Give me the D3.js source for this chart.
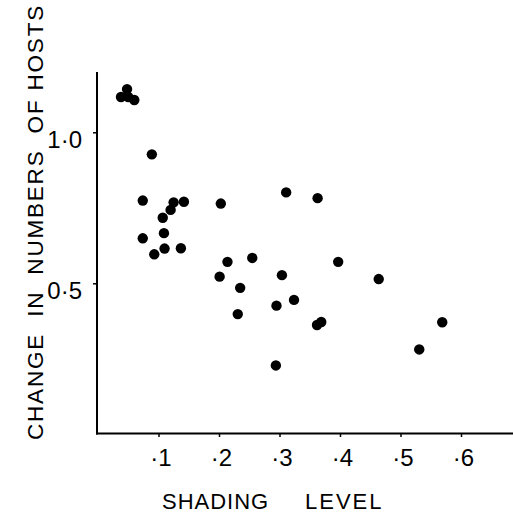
<!DOCTYPE html>
<html>
<head>
<meta charset="utf-8">
<script src="https://cdn.jsdelivr.net/npm/d3@7"></script>
<style>
  html, body { margin: 0; padding: 0; background: #fff; }
  svg { display: block; }
  text { font-family: "Liberation Sans", Arial, Helvetica, sans-serif; fill: #000; }
</style>
</head>
<body>
<svg id="chart" width="513" height="515"></svg>
<script>
// Shading level (x) of each observation
const shading = [
  0.038, 0.048, 0.050, 0.060,
  0.089, 0.074, 0.125, 0.142, 0.120, 0.107, 0.109, 0.074, 0.093, 0.110, 0.137,
  0.203, 0.311, 0.363, 0.214, 0.255, 0.201, 0.304, 0.235, 0.324, 0.295, 0.231,
  0.362, 0.369, 0.294,
  0.397, 0.464, 0.569, 0.531
];
// Change in numbers of hosts (y) of each observation
const change = [
  1.117, 1.143, 1.117, 1.107,
  0.927, 0.774, 0.768, 0.770, 0.743, 0.717, 0.666, 0.649, 0.596, 0.615, 0.616,
  0.764, 0.801, 0.782, 0.571, 0.584, 0.522, 0.527, 0.485, 0.445, 0.426, 0.398,
  0.362, 0.372, 0.228,
  0.571, 0.514, 0.371, 0.281
];
const xTickValues = [0.1, 0.2, 0.3, 0.4, 0.5, 0.6];
const xTickLabels = ["\u00b71", "\u00b72", "\u00b73", "\u00b74", "\u00b75", "\u00b76"];
const yTickValues = [0.5, 1.0];
const yTickLabels = ["0\u00b75", "1\u00b70"];
const xTitle = ["SHADING", "LEVEL"];
const yTitle = "CHANGE  IN  NUMBERS  OF HOSTS";

const svg = d3.select("#chart");
const x = d3.scaleLinear().domain([0, 0.6]).range([98, 461]);
const y = d3.scaleLinear().domain([0, 1.0]).range([434.3, 132.3]);
const data = shading.map((d, i) => ({ x: d, y: change[i] }));

// axes lines
svg.append("line").attr("x1", 97).attr("x2", 97).attr("y1", 72).attr("y2", 434.5)
  .attr("stroke", "#000").attr("stroke-width", 2);
svg.append("line").attr("x1", 96).attr("x2", 513).attr("y1", 433.5).attr("y2", 433.5)
  .attr("stroke", "#000").attr("stroke-width", 2);

// x axis via d3
const xAxis = d3.axisBottom(x).tickValues(xTickValues)
  .tickFormat((d, i) => xTickLabels[i]).tickSize(3).tickPadding(12);
const gx = svg.append("g").attr("transform", "translate(0,434)").call(xAxis);
gx.select(".domain").remove();
gx.selectAll(".tick line").attr("stroke", "#000").attr("stroke-width", 1.5);
gx.selectAll(".tick text").attr("font-size", 24).attr("dx", 2)
  .style("font-family", "'Liberation Sans', Arial, sans-serif");

// y axis via d3
const yAxis = d3.axisLeft(y).tickValues(yTickValues)
  .tickFormat((d, i) => yTickLabels[i]).tickSize(3).tickPadding(11);
const gy = svg.append("g").attr("transform", "translate(96,0)").call(yAxis);
gy.select(".domain").remove();
gy.selectAll(".tick line").attr("stroke", "#000").attr("stroke-width", 1.5);
gy.selectAll(".tick text").attr("font-size", 24).attr("dy", "0.62em")
  .style("font-family", "'Liberation Sans', Arial, sans-serif");

// points
svg.append("g").selectAll("circle").data(data).join("circle")
  .attr("cx", d => x(d.x)).attr("cy", d => y(d.y)).attr("r", 5.2).attr("fill", "#000");

// titles
svg.append("text").attr("x", 162).attr("y", 509).attr("font-size", 22)
  .attr("letter-spacing", 1).text(xTitle[0]);
svg.append("text").attr("x", 305).attr("y", 509).attr("font-size", 22)
  .attr("letter-spacing", 2).text(xTitle[1]);
svg.append("text")
  .attr("transform", "translate(43,222) rotate(-90)")
  .attr("text-anchor", "middle").attr("font-size", 22.5)
  .attr("letter-spacing", 1.8)
  .style("white-space", "pre")
  .text(yTitle);
</script>
</body>
</html>
